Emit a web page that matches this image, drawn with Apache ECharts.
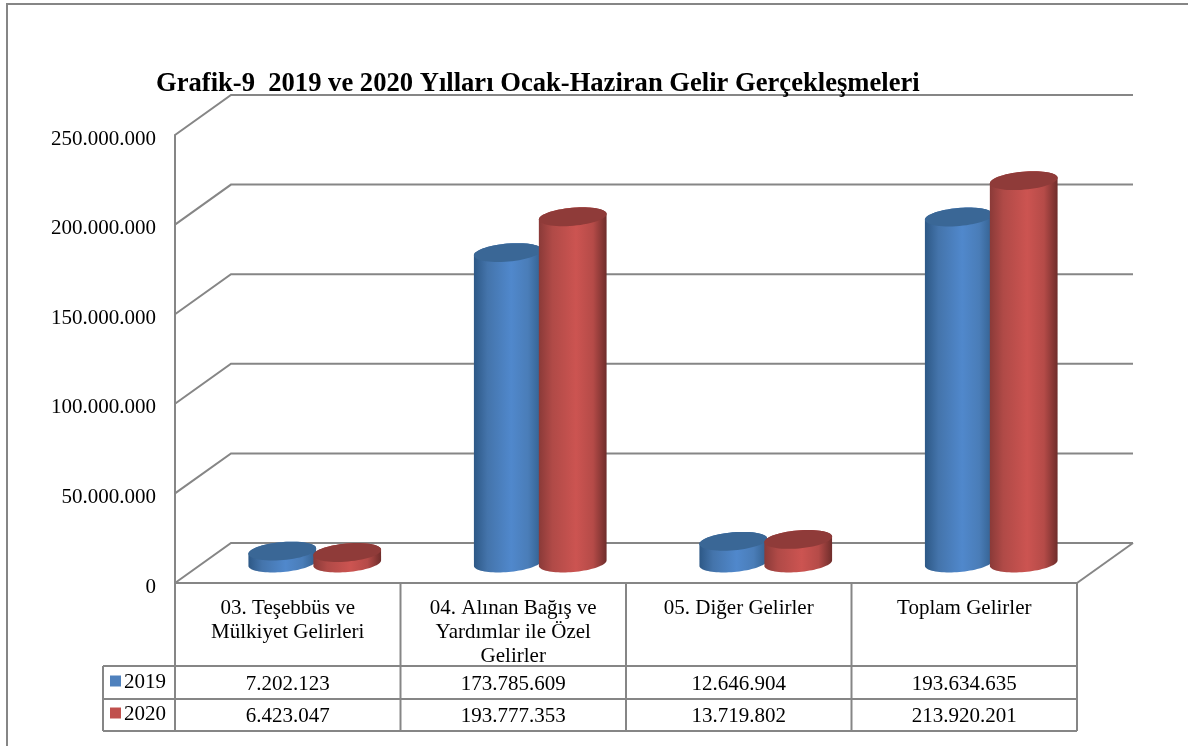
<!DOCTYPE html>
<html><head><meta charset="utf-8">
<style>html,body{margin:0;padding:0;background:#fff}#c{width:1188px;height:746px}</style>
<script src="https://cdn.jsdelivr.net/npm/echarts@6/dist/echarts.min.js"></script>
</head><body><div id="c"></div>
<script>
const titleText = 'Grafik-9  2019 ve 2020 Yılları Ocak-Haziran Gelir Gerçekleşmeleri';
const categories = ['03. Teşebbüs ve\nMülkiyet Gelirleri', '04. Alınan Bağış ve\nYardımlar ile Özel\nGelirler', '05. Diğer Gelirler', 'Toplam Gelirler'];
const seriesNames = ['2019', '2020'];
const values2019 = [7202123, 173785609, 12646904, 193634635];
const values2020 = [6423047, 193777353, 13719802, 213920201];
const yTicks = [0, 50000000, 100000000, 150000000, 200000000, 250000000];

const FONT = '"Liberation Serif", serif';
const LINE = '#868686';
const GL = 175, GT = 135, GW = 902, GH = 448;
const DX = 56, DY = 40;
const fmt = v => String(v).replace(/\B(?=(\d{3})+(?!\d))/g, '.');

const palettes = [
  {legend:'#4f81bd', top:'#3a6796', stops:['#2d5886','#4474ab','#5088cc','#4a7db8','#33608f']},
  {legend:'#c0504d', top:'#8f3b39', stops:['#8a3a38','#b04a47','#cc5451','#b54b48','#6f2d2b']}
];

function ellipsePts(cx, cy, rx, ry, a0, a1, n) {
  const rot = -5 * Math.PI / 180, pts = [];
  for (let i = 0; i <= n; i++) {
    const t = a0 + (a1 - a0) * i / n;
    const x = rx * Math.cos(t), y = ry * Math.sin(t);
    pts.push([cx + x * Math.cos(rot) - y * Math.sin(rot), cy + x * Math.sin(rot) + y * Math.cos(rot)]);
  }
  return pts;
}

function cylinder(idx) {
  const pal = palettes[idx];
  return function (params, api) {
    const cat = api.value(0), val = api.value(1);
    const top = api.coord([cat, val]), base = api.coord([cat, 0]);
    const band = api.size([1, 0])[0];
    const sp = band * 0.144;
    const cx = top[0] + DX / 2 - 1 + (idx === 0 ? -sp : sp);
    const yTop = top[1] - DY / 2 + 1, yBase = base[1] - DY / 2;
    const rx = 34, ry = 9;
    const bottomArc = ellipsePts(cx, yBase, rx, ry, Math.PI, 0, 40);
    const topArc = ellipsePts(cx, yTop, rx, ry, 0, -Math.PI, 40);
    const body = bottomArc.concat(topArc);
    const s = pal.stops;
    return {
      type: 'group',
      children: [
        {type:'polygon', shape:{points:body}, style:{fill:{type:'linear',x:0,y:0,x2:1,y2:0,colorStops:[
          {offset:0,color:s[0]},{offset:0.2,color:s[1]},{offset:0.55,color:s[2]},{offset:0.8,color:s[3]},{offset:1,color:s[4]}]}}},
        {type:'polygon', shape:{points:ellipsePts(cx, yTop, rx, ry, 0, 2*Math.PI, 60)}, style:{fill:pal.top}}
      ]
    };
  };
}

function wall(params, api) {
  const v = api.value(0);
  const p = api.coord([0, v]);
  const x0 = GL, y = p[1], x2 = GL + GW + DX;
  const pts = [[x0, y], [x0 + DX, y - DY], [x2, y - DY]];
  const kids = [{type:'polyline', shape:{points:pts}, style:{stroke:LINE, lineWidth:2, fill:null}}];
  if (v === 0) kids.push({type:'line', shape:{x1:GL+GW, y1:y, x2:x2, y2:y-DY}, style:{stroke:LINE, lineWidth:2}});
  return {type:'group', children:kids};
}

const rowYs = [666, 699, 731];
const colXs = [GL, GL+GW/4, GL+GW/2, GL+3*GW/4, GL+GW];
const graphics = [];
const ln = (x1,y1,x2,y2) => graphics.push({type:'line', shape:{x1,y1,x2,y2}, style:{stroke:LINE, lineWidth:2}, silent:true});
graphics.push({type:'polyline', shape:{points:[[7,746],[7,4],[1188,4]]}, style:{stroke:LINE, lineWidth:2, fill:null}, silent:true});
colXs.forEach(x => ln(x, GT+GH, x, rowYs[2]));
ln(103, rowYs[0], 103, rowYs[2]);
rowYs.forEach(y => ln(103, y, GL+GW, y));
[values2019, values2020].forEach((arr, r) => arr.forEach((v, c) => {
  graphics.push({type:'text', silent:true, style:{text:fmt(v), x:(colXs[c]+colXs[c+1])/2, y:(rowYs[r]+rowYs[r+1])/2+2-r*0.5,
    align:'center', verticalAlign:'middle', font:'21px '+FONT, fill:'#000'}});
}));

const option = {
  animation:false,
  backgroundColor:'#fff',
  title:{text:titleText, left:151, top:66, textStyle:{fontFamily:FONT, fontWeight:'bold', fontSize:26.6, color:'#000'}},
  legend:{data:seriesNames, orient:'vertical', left:110, top:672, itemWidth:11, itemHeight:11, itemGap:11, padding:0,
    icon:'rect', selectedMode:false, textStyle:{fontFamily:FONT, fontSize:21, color:'#000', padding:[0,0,0,-2],
      rich:{}}, formatter:n=>'{t|'+n+'}'},
  grid:{left:GL, top:GT, width:GW, height:GH},
  xAxis:{type:'category', data:categories, axisTick:{show:false},
    axisLine:{lineStyle:{color:LINE, width:2}},
    axisLabel:{interval:0, margin:13, lineHeight:24, fontFamily:FONT, fontSize:21, color:'#000'}},
  yAxis:{type:'value', min:0, max:250000000, interval:50000000,
    axisLine:{show:true, lineStyle:{color:LINE, width:2}}, axisTick:{show:false}, splitLine:{show:false},
    axisLabel:{margin:19, formatter:v=>'{t|'+fmt(v)+'}', color:'#000',
      rich:{t:{fontFamily:FONT, fontSize:21, color:'#000', padding:[8,0,0,0]}}}},
  series:[
    {type:'custom', name:'walls', silent:true, z:1, coordinateSystem:'cartesian2d', renderItem:wall,
      data:yTicks.map(v=>[v]), encode:{y:0}},
    {type:'custom', name:seriesNames[0], z:2, renderItem:cylinder(0), itemStyle:{color:palettes[0].legend},
      data:values2019.map((v,i)=>[i,v]), encode:{x:0,y:1}},
    {type:'custom', name:seriesNames[1], z:2, renderItem:cylinder(1), itemStyle:{color:palettes[1].legend},
      data:values2020.map((v,i)=>[i,v]), encode:{x:0,y:1}}
  ],
  graphic:{elements:graphics}
};
option.legend.textStyle.rich = {t:{fontFamily:FONT, fontSize:21, color:'#000', padding:[3,0,0,0]}};
const chart = echarts.init(document.getElementById('c'), null, {renderer:'canvas'});
chart.setOption(option);
</script></body></html>
